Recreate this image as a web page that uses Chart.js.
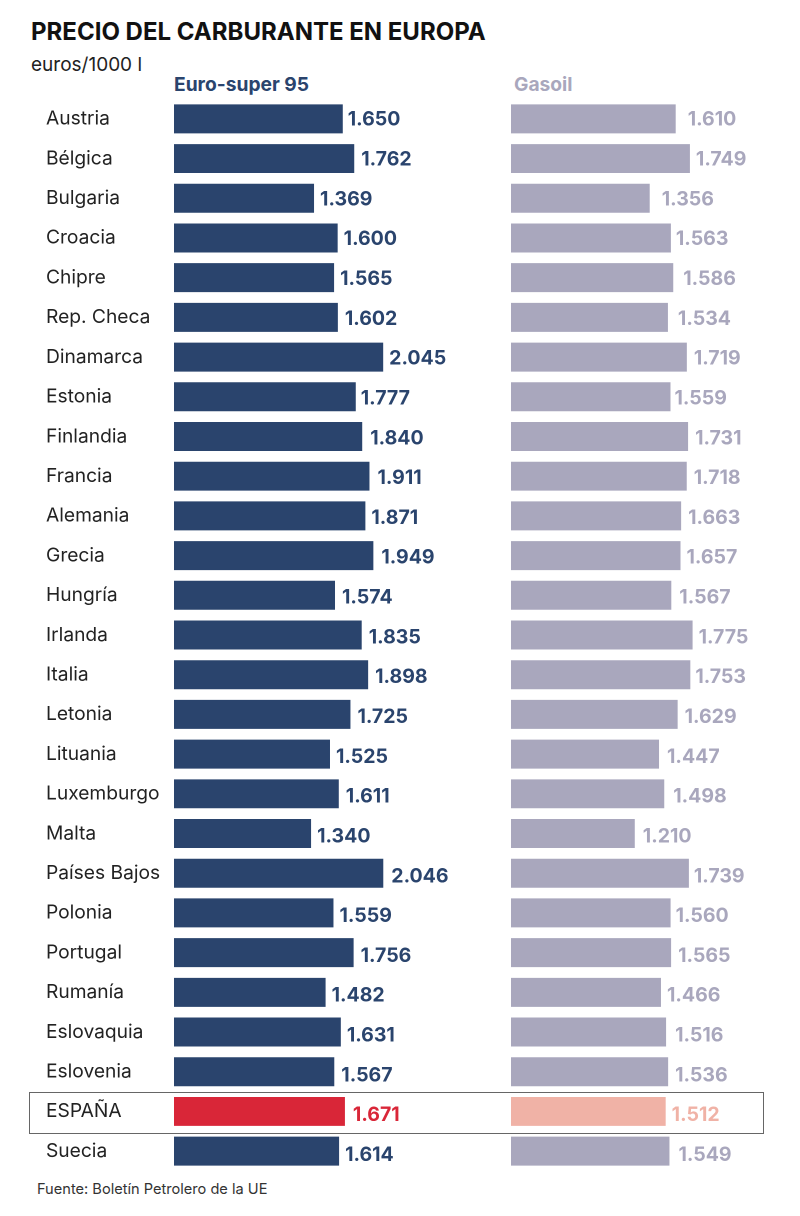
<!DOCTYPE html>
<html lang="es">
<head>
<meta charset="utf-8">
<title>Precio del carburante en Europa</title>
<script src="https://cdn.jsdelivr.net/npm/chart.js@4"></script>
<style>
    html, body { margin: 0; padding: 0; background: #fff; }
    body { position: relative; width: 800px; height: 1216px; overflow: hidden; font-family: Inter, sans-serif; }
    .text { position: absolute; white-space: nowrap; line-height: 1; }
    #title { left: 31px; top: 20px; font-size: 24px; font-weight: 700; color: #111; }
    #unit { left: 31px; top: 55px; font-size: 19px; color: #222; }
    #headSuper { left: 174px; top: 75px; font-size: 19.2px; font-weight: 700; color: #2a446d; }
    #headGasoil { left: 514px; top: 75px; font-size: 19.2px; font-weight: 700; color: #a9a7bd; }
    #source { left: 37px; top: 1182px; font-size: 14.6px; color: #333; }
    #spainBox { position: absolute; left: 29px; top: 1092px; width: 733px; height: 40px; border: 1px solid #666; }
    canvas { position: absolute; top: 99px; }
    #superChart { left: 0; }
    #gasoilChart { left: 511px; }
</style>
</head>
<body>
<div class="text" id="title">PRECIO DEL CARBURANTE EN EUROPA</div>
<div class="text" id="unit">euros/1000 l</div>
<div class="text" id="headSuper">Euro-super 95</div>
<div class="text" id="headGasoil">Gasoil</div>
<div id="spainBox"></div>
<canvas id="superChart" width="500" height="1072"></canvas>
<canvas id="gasoilChart" width="289" height="1072"></canvas>
<div class="text" id="source">Fuente: Boletín Petrolero de la UE</div>
<script>
const countries = ['Austria', 'Bélgica', 'Bulgaria', 'Croacia', 'Chipre', 'Rep. Checa', 'Dinamarca', 'Estonia', 'Finlandia', 'Francia', 'Alemania', 'Grecia', 'Hungría', 'Irlanda', 'Italia', 'Letonia', 'Lituania', 'Luxemburgo', 'Malta', 'Países Bajos', 'Polonia', 'Portugal', 'Rumanía', 'Eslovaquia', 'Eslovenia', 'ESPAÑA', 'Suecia'];
const superValues = [1.650, 1.762, 1.369, 1.600, 1.565, 1.602, 2.045, 1.777, 1.840, 1.911, 1.871, 1.949, 1.574, 1.835, 1.898, 1.725, 1.525, 1.611, 1.340, 2.046, 1.559, 1.756, 1.482, 1.631, 1.567, 1.671, 1.614];
const gasoilValues = [1.610, 1.749, 1.356, 1.563, 1.586, 1.534, 1.719, 1.559, 1.731, 1.718, 1.663, 1.657, 1.567, 1.775, 1.753, 1.629, 1.447, 1.498, 1.210, 1.739, 1.560, 1.565, 1.466, 1.516, 1.536, 1.512, 1.549];

const superLabelGaps = [5, 7, 6, 6, 6, 7, 6, 5, 8, 8, 6, 8, 7, 7, 7, 7, 6, 7, 6, 8, 6, 7, 6, 6, 7, 8, 6];
const gasoilLabelGaps = [12, 6, 12, 5, 10, 10, 7, 4, 7, 7, 7, 6, 8, 6, 5, 7, 8, 9, 8, 5, 5, 7, 6, 9, 7, 6, 9];

const HIGHLIGHT = 'ESPAÑA';
const LABEL_DRIFT = 3;
const LABEL_FONT = '700 19.5px Inter, sans-serif';

const valueLabels = {
    id: 'valueLabels',
    afterDatasetsDraw(chart, args, options) {
        const ctx = chart.ctx;
        const bars = chart.getDatasetMeta(0).data;
        ctx.save();
        ctx.font = LABEL_FONT;
        ctx.textAlign = 'left';
        ctx.textBaseline = 'middle';
        bars.forEach((bar, index) => {
            const value = chart.data.datasets[0].data[index];
            ctx.fillStyle = countries[index] === HIGHLIGHT ? options.highlightColor : options.color;
            const drift = 1 + LABEL_DRIFT * index / (bars.length - 1);
            ctx.fillText(value.toFixed(3), bar.x + options.gaps[index], bar.y + drift);
        });
        ctx.restore();
    }
};

function createBarChart(canvasId, values, settings) {
    return new Chart(document.getElementById(canvasId), {
        type: 'bar',
        data: {
            labels: countries,
            datasets: [
                {
                    data: values,
                    backgroundColor: countries.map(name => name === HIGHLIGHT ? settings.highlightBar : settings.bar),
                    categoryPercentage: 1,
                    barPercentage: 0.73
                }
            ]
        },
        plugins: [valueLabels],
        options: {
            indexAxis: 'y',
            responsive: false,
            animation: false,
            devicePixelRatio: 2,
            layout: { padding: settings.padding },
            scales: {
                x: { display: false, min: 0, max: settings.max },
                y: settings.yAxis
            },
            plugins: {
                legend: { display: false },
                tooltip: { enabled: false },
                valueLabels: {
                    gaps: settings.gaps,
                    color: settings.text,
                    highlightColor: settings.highlightText
                }
            }
        }
    });
}

createBarChart('superChart', superValues, {
    bar: '#2a446d',
    highlightBar: '#d92638',
    text: '#2a446d',
    highlightText: '#d92638',
    gaps: superLabelGaps,
    max: 3.187,
    padding: { left: 46 },
    yAxis: {
        afterFit(axis) {
            // fixed gutter, and no extra room for the first and last tick label
            axis.width = 128;
            axis.paddingTop = 0;
            axis.paddingBottom = 0;
        },
        grid: { display: false, drawTicks: false },
        border: { display: false },
        ticks: {
            crossAlign: 'far',
            autoSkip: false,
            padding: 0,
            color: '#222',
            font: { family: 'Inter, sans-serif', size: 19.2 }
        }
    }
});

createBarChart('gasoilChart', gasoilValues, {
    bar: '#a9a7bd',
    highlightBar: '#f0b2a6',
    text: '#a9a7bd',
    highlightText: '#f0b2a6',
    gaps: gasoilLabelGaps,
    max: 2.825,
    padding: 0,
    yAxis: { display: false }
});
</script>
</body>
</html>
